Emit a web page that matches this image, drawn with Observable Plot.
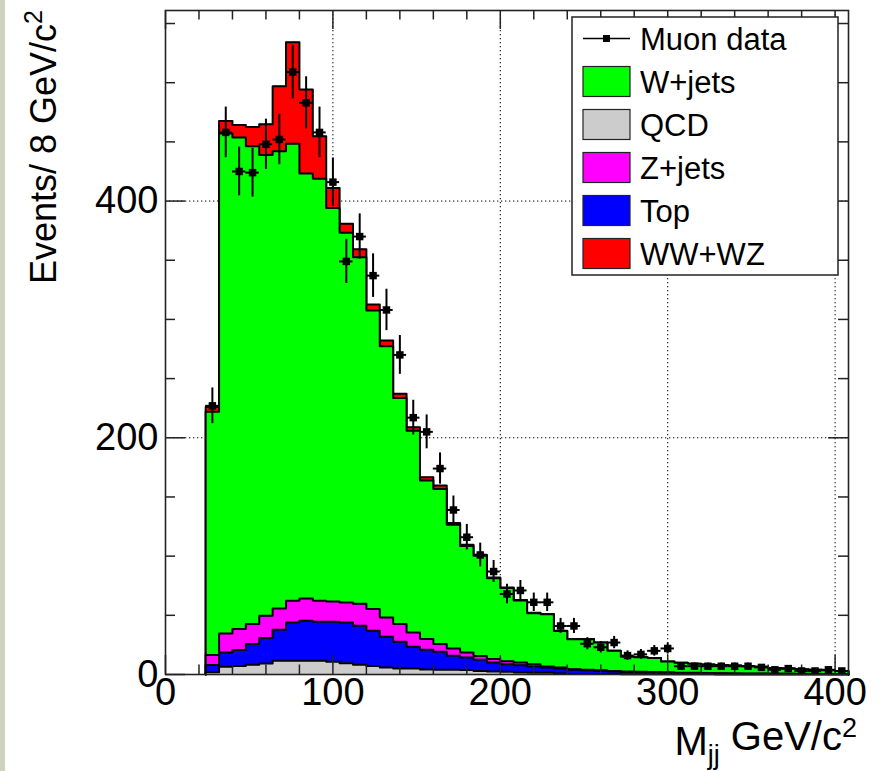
<!DOCTYPE html>
<html><head><meta charset="utf-8">
<script src="https://cdn.jsdelivr.net/npm/d3@7"></script>
<script src="https://cdn.jsdelivr.net/npm/@observablehq/plot@0.6"></script>
<style>
body{margin:0;background:#fff;}
#chart{position:absolute;left:0;top:0;}
#strip{position:absolute;left:0;top:0;width:5px;height:771px;background:#cdd2be;}
</style></head><body><div id="chart"></div><div id="strip"></div>
<script>
// ---- data ----
const binCenters = [28,36,44,52,60,68,76,84,92,100,108,116,124,132,140,148,156,164,172,180,188,196,204,212,220,228,236,244,252,260,268,276,284,292,300,308,316,324,332,340,348,356,364,372,380,388,396,404];
const binWidth = 8;
const qcd = [2,6.5,7.1,8.2,9.3,11.6,11.6,11.6,11.6,10.7,9.6,8.2,7.1,6,5,5,4.3,4,4,3.7,3,2.5,2.3,1.7,1.4,1.4,0.8,0.5,0.5,0.4,0.4,0.3,0.3,0.3,0.2,0.2,0.2,0.2,0.1,0.1,0.1,0.1,0.1,0.1,0.1,0.1,0.1,0.1];
const topPair = [6,12.1,13.5,17.5,21.5,26.2,32.4,33.8,33,33.9,34.4,33,29.9,25.9,22.7,18.4,16.6,15.2,11.8,10.7,9.5,7.7,6.4,6.2,5.4,4.5,4.3,3.5,3,2.6,2.2,1.9,1.7,1.5,1.3,1.1,1,0.9,0.8,0.7,0.6,0.6,0.5,0.5,0.4,0.4,0.3,0.3];
const zjets = [8.4,16.1,17.8,16.9,18.8,18,18.3,18.9,17.7,17.1,16.9,18.5,18.3,16.3,14.9,12.1,9,6.5,6.2,4.2,3.2,2.8,2.6,2.3,1.9,0.9,0.8,0.5,0.5,0.5,0.4,0.4,0.3,0.3,0.3,0.2,0.2,0.2,0.2,0.1,0.1,0.1,0.1,0.1,0.1,0.1,0.1,0.1];
const wjets = [205.6,422.3,415.3,403.7,389.3,386.2,386.2,358.9,356.6,332.4,312.4,292.9,252.3,229.2,191.1,170.5,134.1,131.1,104.6,89.9,84.6,68.3,61.7,52.3,43.1,44,30.9,25.3,25.8,23.5,17,12.4,12.2,11.9,9.2,8.5,7.6,7.2,6.9,6.6,6.2,5.7,4.8,4.3,3.9,3.4,3,2.5];
const diboson = [4,10.7,10.6,16.3,26,55,85.7,71,35.8,16.9,7.6,6.6,5,4.8,3.4,2.9,2.6,2.8,1.4,1.2,0.9,0.7,0.6,0.4,0.4,0.3,0.2,0.1,0.1,0.1,0,0,0,0,0,0,0,0,0,0,0,0,0,0,0,0,0,0];
const dataCounts = [227,458,425,424,448,452,509,483,458,416,349,370,337,308,270,217,205,174,139,116,101,87,68,71,61,61,41,41,26,23,27,16,17,20,22,7,7,7,7,7,7,6,4,5,3,3,4,3];
const dataErr = [15.1,21.4,20.6,20.6,21.2,21.3,22.6,22,21.4,20.4,18.7,19.2,18.4,17.5,16.4,14.7,14.3,13.2,11.8,10.8,10,9.3,8.2,8.4,7.8,7.8,6.4,6.4,5.1,4.8,5.2,4,4.1,4.5,4.7,2.6,2.6,2.6,2.6,2.6,2.6,2.4,2,2.2,1.7,1.7,2,1.7];

const xLabelTicks = [0,100,200,300,400];
const yLabelTicks = [0,200,400];
const xMinorTicks = [20,40,60,80,120,140,160,180,220,240,260,280,320,340,360,380];
const yMinorTicks = [50,100,150,250,300,350,450,500,550];
const xGrid = [100,200,300,400];
const yGrid = [200,400];

const legendLabels = ["Muon data","W+jets","QCD","Z+jets","Top","WW+WZ"];
const legendColors = [null,"#00ff00","#cccccc","#ff00ff","#0000ff","#ff0000"];
const layerColors = {qcd:"#cccccc", top:"#0000ff", z:"#ff00ff", w:"#00ff00", ww:"#ff0000"};

// ---- layout ----
const W = 885, H = 771, mL = 165, mR = 37, mT = 10, mB = 97;
const innerW = W - mL - mR, innerH = H - mT - mB;

// cumulative layers (bottom to top)
const cum = [];
let run = binCenters.map(() => 0);
for (const [arr, col] of [[qcd,layerColors.qcd],[topPair,layerColors.top],[zjets,layerColors.z],[wjets,layerColors.w],[diboson,layerColors.ww]]) {
  run = run.map((v, i) => v + arr[i]);
  cum.push({vals: run.slice(), color: col});
}
function stepPts(vals) {
  const pts = [{x: binCenters[0] - binWidth/2, y: 0}];
  vals.forEach((v, i) => pts.push({x: binCenters[i] - binWidth/2, y: v}));
  pts.push({x: binCenters[vals.length-1] + binWidth/2, y: 0});
  return pts;
}
const layerMarks = [];
for (let k = cum.length - 1; k >= 0; k--) {
  const pts = stepPts(cum[k].vals);
  layerMarks.push(Plot.areaY(pts, {x: "x", y1: 0, y2: "y", curve: "step-after", fill: cum[k].color}));
  layerMarks.push(Plot.lineY(pts, {x: "x", y: "y", curve: "step-after", stroke: "black", strokeWidth: 2}));
}
const idx = d3.range(binCenters.length);
const tickStyle = {stroke: "#222", strokeWidth: 1.5};

const plot = Plot.plot({
  width: W, height: H,
  marginLeft: mL, marginRight: mR, marginTop: mT, marginBottom: mB,
  x: {domain: [0, 408]},
  y: {domain: [0, 561]},
  style: {fontFamily: "'Liberation Sans', Arial, Helvetica, sans-serif", fontSize: "38px", color: "black", background: "white", overflow: "visible"},
  marks: [
    Plot.ruleX(xGrid, {x: d => d, stroke: "#000", strokeWidth: 1, strokeDasharray: "1.3,2.7"}),
    Plot.ruleY(yGrid, {y: d => d, stroke: "#000", strokeWidth: 1, strokeDasharray: "1.3,2.7"}),
    ...layerMarks,
    // inward ticks
    Plot.tickX(xLabelTicks, {x: d => d, insetTop: innerH - 19, ...tickStyle}),
    Plot.tickX(xMinorTicks, {x: d => d, insetTop: innerH - 9.5, ...tickStyle}),
    Plot.tickX(xLabelTicks, {x: d => d, insetBottom: innerH - 19, ...tickStyle}),
    Plot.tickX(xMinorTicks, {x: d => d, insetBottom: innerH - 9.5, ...tickStyle}),
    Plot.tickY(yLabelTicks, {y: d => d, insetRight: innerW - 20, ...tickStyle}),
    Plot.tickY(yMinorTicks, {y: d => d, insetRight: innerW - 10, ...tickStyle}),
    Plot.tickY(yLabelTicks, {y: d => d, insetLeft: innerW - 20, ...tickStyle}),
    Plot.tickY(yMinorTicks, {y: d => d, insetLeft: innerW - 10, ...tickStyle}),
    Plot.axisX({ticks: xLabelTicks, tickSize: 0, tickPadding: 4, fontSize: 38, label: null}),
    Plot.axisY({ticks: yLabelTicks, tickSize: 0, tickPadding: 7, fontSize: 38, label: null}),
    // data
    Plot.ruleY(idx, {y: i => dataCounts[i], x1: i => binCenters[i] - binWidth/2, x2: i => binCenters[i] + binWidth/2, stroke: "black", strokeWidth: 2}),
    Plot.ruleX(idx, {x: i => binCenters[i], y1: i => Math.max(0, dataCounts[i] - dataErr[i]), y2: i => dataCounts[i] + dataErr[i], stroke: "black", strokeWidth: 2}),
    Plot.dot(idx, {x: i => binCenters[i], y: i => dataCounts[i], symbol: "square", fill: "black", r: 4.2}),
    Plot.frame({stroke: "#222", strokeWidth: 1.6})
  ]
});
document.getElementById("chart").appendChild(plot);

// ---- titles and legend (text) ----
const svg = d3.select(plot);
const font = "'Liberation Sans', Arial, Helvetica, sans-serif";
const yt = svg.append("text")
  .attr("transform", "translate(56,10) rotate(-90)")
  .attr("text-anchor", "end").attr("font-family", font).attr("font-size", 36).attr("fill", "black");
yt.append("tspan").text("Events/ 8 GeV/c");
yt.append("tspan").attr("font-size", 25).attr("dy", "-0.55em").text("2");

const xt = svg.append("text")
  .attr("x", 857).attr("y", 755)
  .attr("text-anchor", "end").attr("font-family", font).attr("font-size", 40).attr("fill", "black");
xt.append("tspan").text("M");
xt.append("tspan").attr("font-size", 27).attr("dy", "0.35em").text("jj");
xt.append("tspan").attr("dy", "-0.35em").text("\u00a0GeV/c");
xt.append("tspan").attr("font-size", 27).attr("dy", "-0.48em").text("2");

const lg = svg.append("g");
lg.append("rect").attr("x", 572).attr("y", 17).attr("width", 266).attr("height", 258)
  .attr("fill", "white").attr("stroke", "#222").attr("stroke-width", 1.5);
legendLabels.forEach((lab, i) => {
  const cy = 38.5 + 43 * i;
  if (legendColors[i] === null) {
    lg.append("line").attr("x1", 583).attr("x2", 630).attr("y1", cy).attr("y2", cy).attr("stroke", "black").attr("stroke-width", 1.5);
    lg.append("rect").attr("x", 603).attr("y", cy - 3.5).attr("width", 7).attr("height", 7).attr("fill", "black");
  } else {
    lg.append("rect").attr("x", 583).attr("y", cy - 15).attr("width", 47).attr("height", 30)
      .attr("fill", legendColors[i]).attr("stroke", "#222").attr("stroke-width", 1.2);
  }
  lg.append("text").attr("x", 640).attr("y", cy + 11).attr("text-anchor", "start")
    .attr("font-family", font).attr("font-size", 31).attr("fill", "black").text(lab);
});
</script>
</body></html>
